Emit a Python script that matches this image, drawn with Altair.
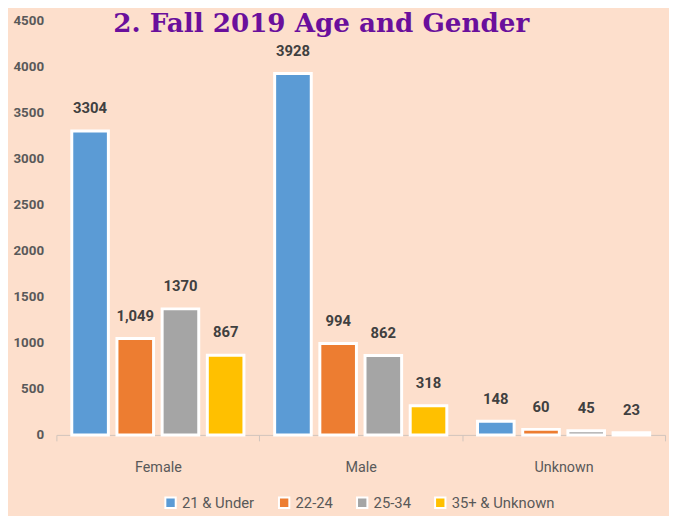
import altair as alt
import pandas as pd

genders = ["Female", "Male", "Unknown"]
ages = ["21 & Under", "22-24", "25-34", "35+ & Unknown"]
female = [3304, 1049, 1370, 867]
male = [3928, 994, 862, 318]
unknown = [148, 60, 45, 23]
female_labels = ["3304", "1,049", "1370", "867"]
male_labels = ["3928", "994", "862", "318"]
unknown_labels = ["148", "60", "45", "23"]
colors = ["#5B9BD5", "#ED7D31", "#A5A5A5", "#FFC000"]

rows = []
for g, vals, labs in zip(genders, [female, male, unknown], [female_labels, male_labels, unknown_labels]):
    for a, v, l in zip(ages, vals, labs):
        rows.append({"gender": g, "age": a, "value": v, "label": l})
df = pd.DataFrame(rows)

FONT = "Roboto"
BG = "#FDDFCC"

x = alt.X("gender:N", sort=genders, title=None,
          scale=alt.Scale(paddingInner=0, paddingOuter=0),
          axis=alt.Axis(labelAngle=0, labelFont=FONT, labelFontSize=14.5, labelColor="#595959",
                        labelPadding=20, domainColor="#D0C4BC", domainWidth=1,
                        tickColor="#D0C4BC", tickSize=6, tickBand="extent", ticks=True))
xo = alt.XOffset("age:N", sort=ages, scale=alt.Scale(paddingInner=0.19, paddingOuter=0.34))
y = alt.Y("value:Q", title=None,
          scale=alt.Scale(domain=[0, 4500], nice=False),
          axis=alt.Axis(values=list(range(0, 4501, 500)), grid=False, domain=False, ticks=False,
                        labelFont=FONT, labelFontSize=13.5, labelFontWeight="bold",
                        labelColor="#595959", labelPadding=13, format="d"))

bars = alt.Chart(df).mark_bar(stroke="white", strokeWidth=3).encode(
    x=x, xOffset=xo, y=y,
    color=alt.Color("age:N", sort=ages, scale=alt.Scale(domain=ages, range=colors),
                    legend=alt.Legend(title=None, orient="none", direction="horizontal",
                                      legendX=108, legendY=480,
                                      symbolType="square", symbolSize=110,
                                      symbolStrokeColor="white", symbolStrokeWidth=2,
                                      labelFont=FONT, labelFontSize=15, labelColor="#595959",
                                      columnPadding=20, labelOffset=4)),
)

text = alt.Chart(df).mark_text(baseline="bottom", dy=-15, font=FONT, fontSize=15,
                               fontWeight="bold", color="#404040").encode(
    x=x, xOffset=xo, y=y, text="label:N")

chart = (bars + text).properties(
    width=616, height=419,
    autosize=alt.AutoSizeParams(type="none"),
    padding={"left": 49, "top": 10, "right": 4, "bottom": 79},
    background=BG,
    title=alt.TitleParams("2. Fall 2019 Age and Gender", font="DejaVu Serif", fontSize=26.5,
                          fontWeight="bold", color="#6A0F9C", anchor="middle", frame="group",
                          dx=-40, dy=24, offset=0),
).configure_view(stroke=None)

chart.save("out.html", embed_options={"renderer": "svg", "actions": False})
